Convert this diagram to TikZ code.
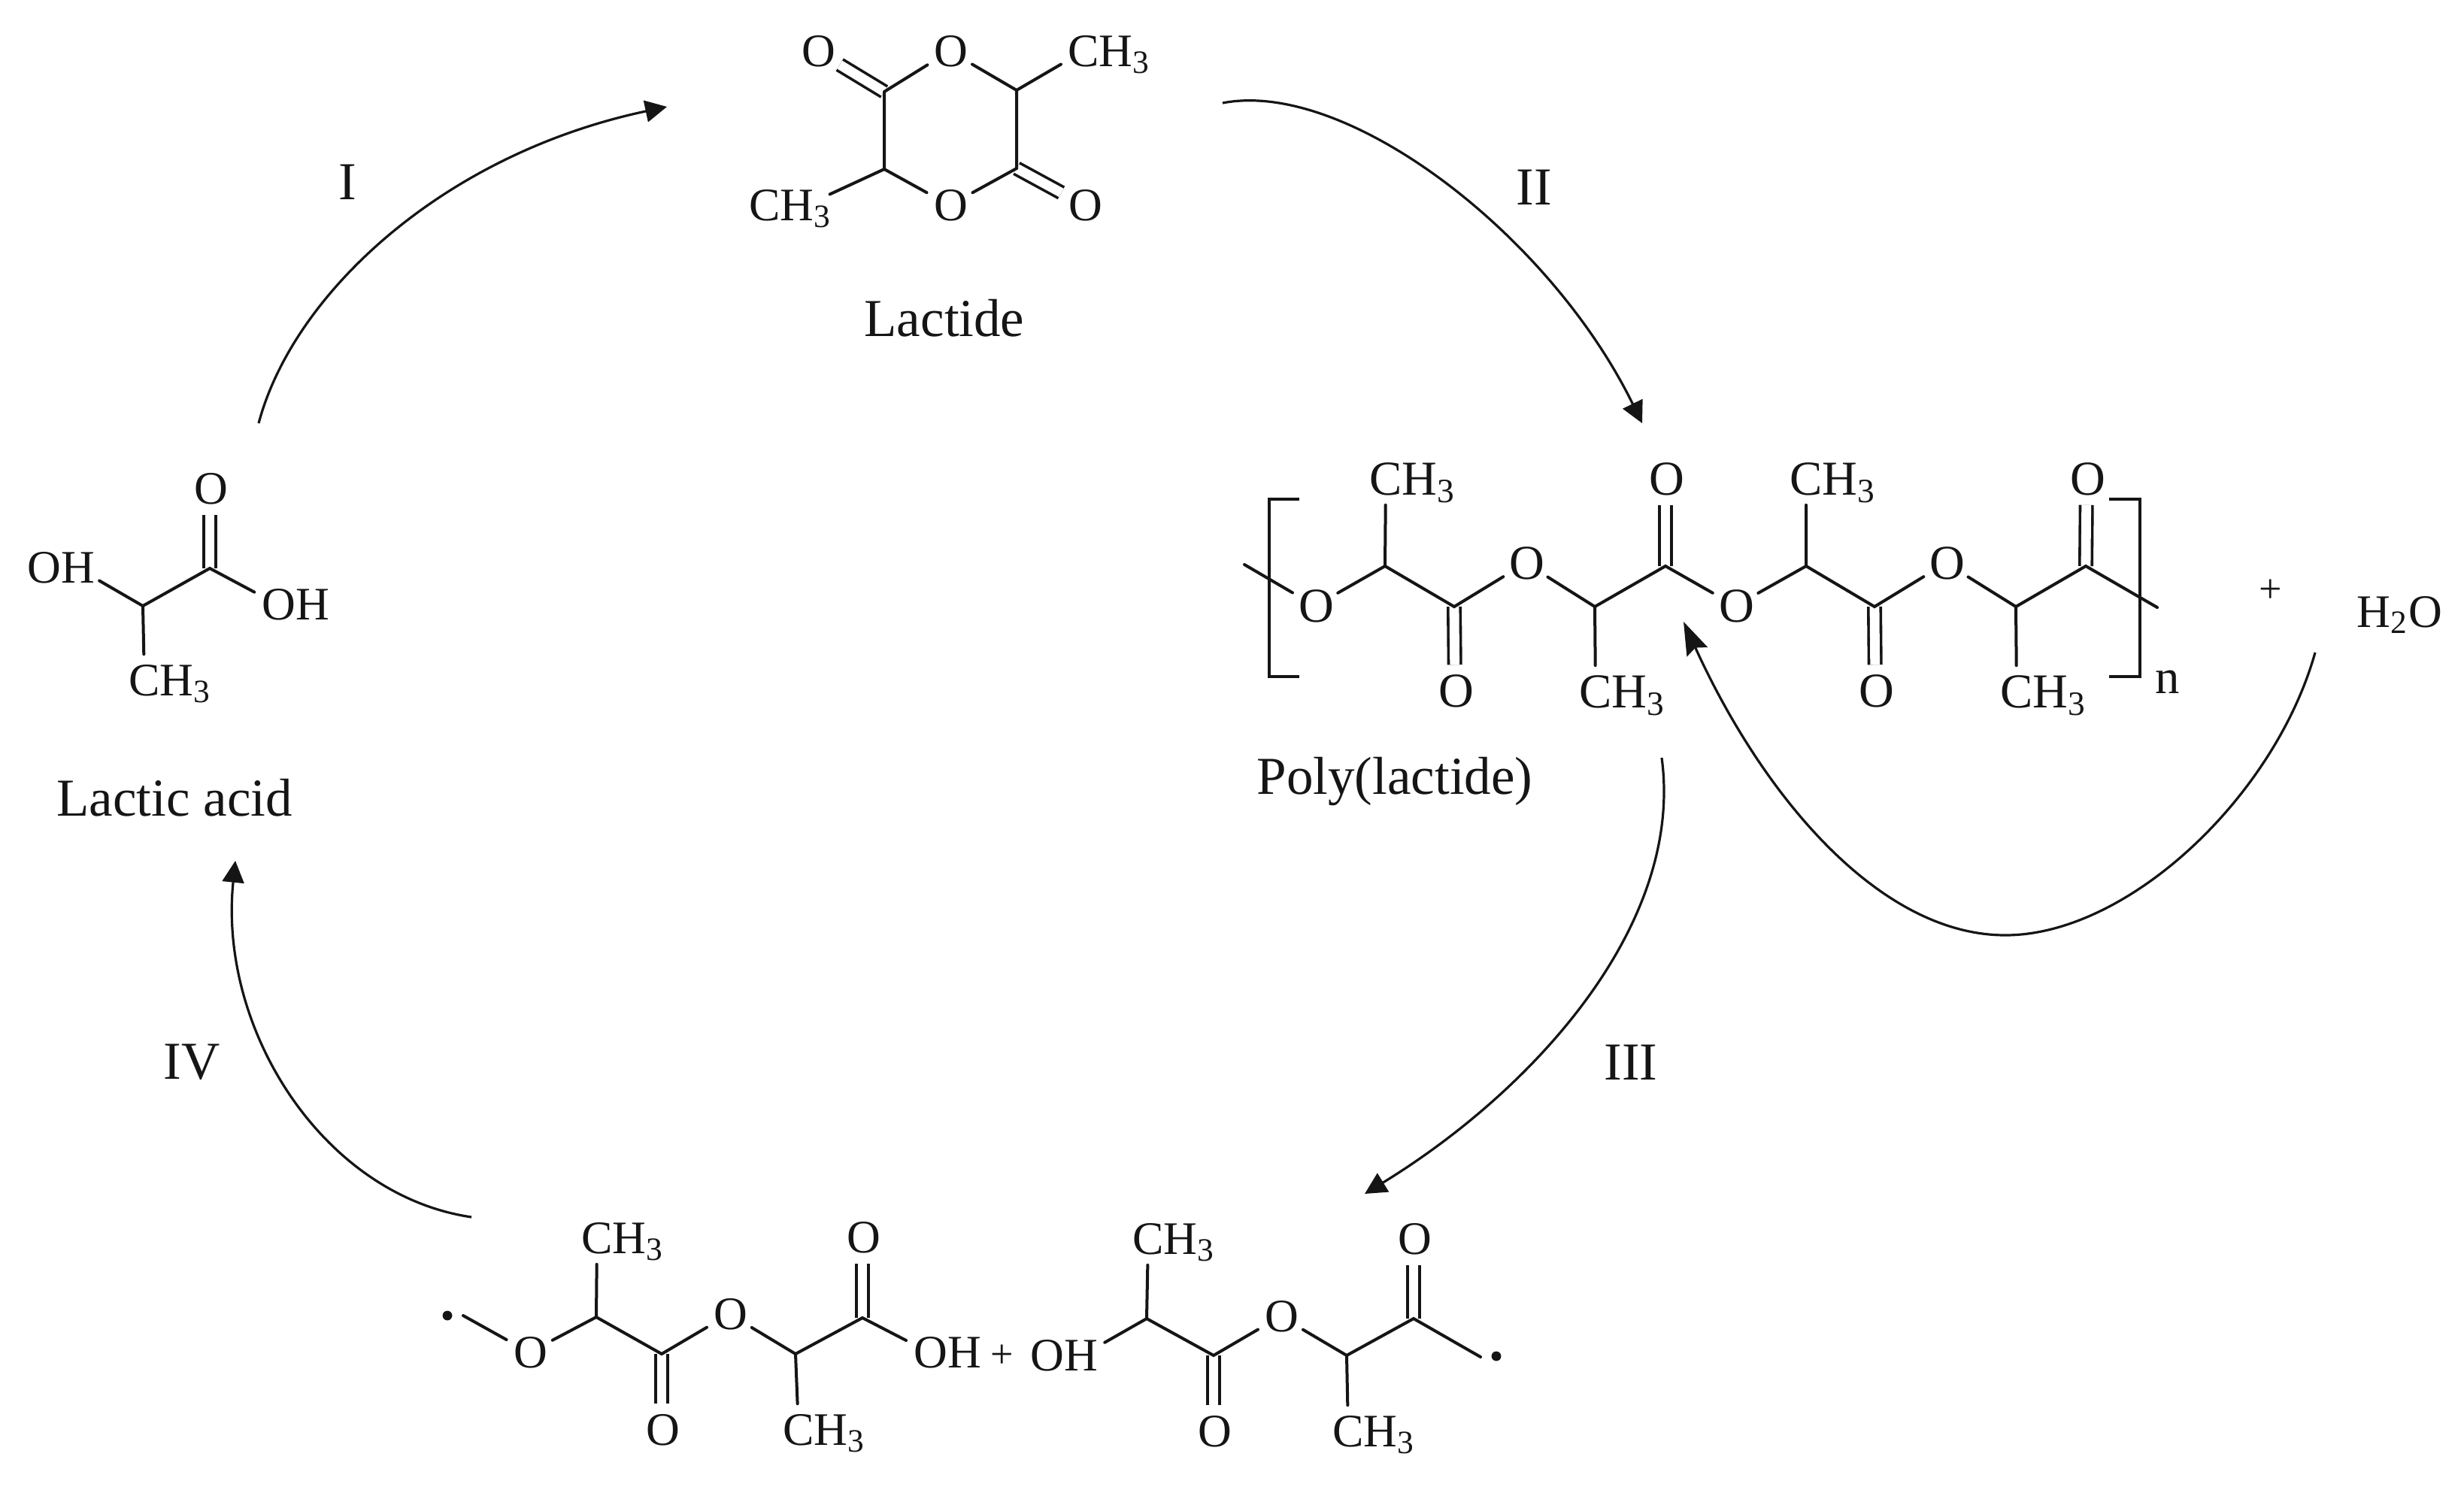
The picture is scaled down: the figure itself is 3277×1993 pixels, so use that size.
\documentclass[tikz,border=0pt]{standalone}
\usepackage{fontspec}
\setmainfont{Liberation Serif}
\usetikzlibrary{arrows.meta}
\newcommand\lab[2][.33]{\makebox[0pt][l]{\hspace{-#1em}\raisebox{-.33em}[0pt][0pt]{#2}}}
\newcommand\Cm[1][.33]{\lab[#1]{CH\textsubscript{3}}}
\newcommand\Oh[1][.33]{\lab[#1]{OH}}
\definecolor{ink}{HTML}{151515}
\tikzset{
  atom/.style={circle,inner sep=0pt,minimum size=17pt,font=\fontsize{15.5}{18}\selectfont,text=ink},
  patom/.style={atom,font=\fontsize{16.2}{18}\selectfont},
  caption/.style={inner sep=0pt,anchor=base,font=\fontsize{17.75}{20}\selectfont,text=ink},
  steplabel/.style={inner sep=0pt,font=\fontsize{17.75}{20}\selectfont,text=ink},
  plus/.style={inner sep=0pt,font=\fontsize{13.5}{15}\selectfont,text=ink},
  bond/.style={draw=ink,line width=1pt,line cap=round},
  dbond/.style={draw=ink,line width=.9pt,double=white,double distance=3.2pt},
  bracket/.style={draw=ink,line width=1.2pt},
  radical/.style={circle,fill=ink,inner sep=0pt,minimum size=3.2pt},
  react/.style={draw=ink,line width=.8pt,-{Triangle[length=7.2pt,width=7.2pt]}},
}
\begin{document}
\begin{tikzpicture}[x=.25pt,y=-.25pt]
\useasboundingbox[fill=white] (0,0) rectangle (3277,1993);

% ---------- Lactide ----------
\coordinate (l1) at (1176,122);
\coordinate (l2) at (1352,120);
\coordinate (l3) at (1352,224);
\coordinate (l4) at (1176,225);
\node[atom] (lo1) at (1263,68) {\lab{O}};
\node[atom] (lo2) at (1263,273) {\lab{O}};
\node[atom] (lo3) at (1087,68) {\lab{O}};
\node[atom] (lo4) at (1442,273) {\lab{O}};
\node[atom] (lm1) at (1441,68) {\Cm};
\node[atom] (lm2) at (1072,273) {\Cm[1.22]};
\draw[dbond] (l1) -- (lo3);
\draw[dbond] (l3) -- (lo4);
\draw[bond] (l1) -- (lo1) (lo1) -- (l2) -- (l3) -- (lo2) (lo2) -- (l4) -- (l1);
\draw[bond] (l2) -- (lm1) (l4) -- (lm2);
\node[caption] (lcap) at (1256,447) {Lactide};

% ---------- Lactic acid ----------
\coordinate (a1) at (190,806);
\coordinate (a2) at (279,756);
\node[atom] (ao) at (279,650) {\lab{O}};
\node[atom] (aoh1) at (102,755) {\Oh[1.05]};
\node[atom] (aoh2) at (369,804) {\Oh};
\node[atom] (am) at (192,905) {\Cm};
\draw[dbond] (a2) -- (ao);
\draw[bond] (aoh1) -- (a1) -- (a2) -- (aoh2);
\draw[bond] (a1) -- (am);
\node[caption] (acap) at (232,1085) {Lactic acid};

% ---------- Poly(lactide) ----------
\coordinate (ps) at (1655,751);
\coordinate (pe) at (2869,808);
\coordinate (p1) at (1842,753);
\coordinate (p2) at (1934,807);
\coordinate (p3) at (2121,807);
\coordinate (p4) at (2215,753);
\coordinate (p5) at (2402,753);
\coordinate (p6) at (2493,807);
\coordinate (p7) at (2681,807);
\coordinate (p8) at (2774,753);
\node[patom] (po1) at (1749,806) {\lab{O}};
\node[patom] (po2) at (2029,749) {\lab{O}};
\node[patom] (po3) at (2308,806) {\lab{O}};
\node[patom] (po4) at (2588,749) {\lab{O}};
\node[patom] (pd1) at (1935,919) {\lab{O}};
\node[patom] (pd2) at (2215,637) {\lab{O}};
\node[patom] (pd3) at (2494,919) {\lab{O}};
\node[patom] (pd4) at (2775,637) {\lab{O}};
\node[patom] (pm1) at (1843,637) {\Cm};
\node[patom] (pm2) at (2122,920) {\Cm};
\node[patom] (pm3) at (2402,637) {\Cm};
\node[patom] (pm4) at (2682,920) {\Cm};
\draw[dbond] (p2) -- (pd1);
\draw[dbond] (p4) -- (pd2);
\draw[dbond] (p6) -- (pd3);
\draw[dbond] (p8) -- (pd4);
\draw[bond] (ps) -- (po1) (po1) -- (p1) -- (p2) -- (po2) (po2) -- (p3) -- (p4) -- (po3) (po3) -- (p5) -- (p6) -- (po4) (po4) -- (p7) -- (p8) -- (pe);
\draw[bond] (p1) -- (pm1) (p3) -- (pm2) (p5) -- (pm3) (p7) -- (pm4);
\draw[bracket] (1728,664) -- (1688,664) -- (1688,900) -- (1728,900);
\draw[bracket] (2805,664) -- (2846,664) -- (2846,900) -- (2805,900);
\node[patom] (pn) at (2883,908) {\raisebox{-.22em}[0pt][0pt]{\makebox[0pt]{n}}};
\node[caption] (pcap) at (1855,1056) {Poly(lactide)};
\node[plus] (pplus) at (3020,786) {+};
\node[atom,anchor=base west,minimum size=0pt] (water) at (3129,834) {H\textsubscript{2}O};

% ---------- Left fragment ----------
\node[radical] (bdot) at (595,1750) {};
\coordinate (bs) at (616,1750);
\coordinate (b1) at (793,1752);
\coordinate (b2) at (880,1801);
\coordinate (b3) at (1058,1801);
\coordinate (b4) at (1147,1753);
\node[atom] (bo1) at (704,1799) {\lab{O}};
\node[atom] (bo2) at (970,1748) {\lab{O}};
\node[atom] (bd1) at (880,1902) {\lab{O}};
\node[atom] (bd2) at (1147,1646) {\lab{O}};
\node[atom] (bm1) at (794,1647) {\Cm};
\node[atom] (bm2) at (1062,1902) {\Cm};
\node[atom] (boh) at (1236,1799) {\Oh};
\draw[dbond] (b2) -- (bd1);
\draw[dbond] (b4) -- (bd2);
\draw[bond] (bs) -- (bo1) (bo1) -- (b1) -- (b2) -- (bo2) (bo2) -- (b3) -- (b4) -- (boh);
\draw[bond] (b1) -- (bm1) (b3) -- (bm2);
\node[plus] (bplus) at (1333,1804) {+};

% ---------- Right fragment ----------
\coordinate (c1) at (1525,1754);
\coordinate (c2) at (1614,1803);
\coordinate (c3) at (1791,1803);
\coordinate (c4) at (1880,1754);
\coordinate (ce) at (1969,1805);
\node[atom] (coh) at (1439,1803) {\Oh[1.1]};
\node[atom] (co) at (1703,1751) {\lab{O}};
\node[atom] (cd1) at (1614,1904) {\lab{O}};
\node[atom] (cd2) at (1880,1648) {\lab{O}};
\node[atom] (cm1) at (1527,1648) {\Cm};
\node[atom] (cm2) at (1793,1904) {\Cm};
\node[radical] (cdot) at (1990,1804) {};
\draw[dbond] (c2) -- (cd1);
\draw[dbond] (c4) -- (cd2);
\draw[bond] (coh) -- (c1) -- (c2) -- (co) (co) -- (c3) -- (c4) -- (ce);
\draw[bond] (c1) -- (cm1) (c3) -- (cm2);

% ---------- Reaction arrows ----------
\coordinate (r1s) at (344,563);
\coordinate (r1e) at (887,142);
\coordinate (r2s) at (1626,137);
\coordinate (r2e) at (2184,563);
\coordinate (r3s) at (2210,1008);
\coordinate (r3e) at (1815,1588);
\coordinate (r4s) at (627,1619);
\coordinate (r4e) at (313,1145);
\coordinate (r5s) at (3079,868);
\coordinate (r5m) at (2667,1244);
\coordinate (r5e) at (2239,827);
\draw[react] (r1s) .. controls (390,390) and (590,205) .. (r1e);
\draw[react] (r2s) .. controls (1790,105) and (2060,310) .. (r2e);
\draw[react] (r3s) .. controls (2240,1230) and (2040,1450) .. (r3e);
\draw[react] (r4s) .. controls (430,1590) and (290,1370) .. (r4e);
\draw[react,-{Stealth[length=11pt,width=7.5pt,inset=1.5pt]}] (r5s) .. controls (3025,1060) and (2830,1244) .. (r5m) .. controls (2500,1244) and (2345,1060) .. (r5e);
\node[steplabel] (s1) at (462,242) {I};
\node[steplabel] (s2) at (2040,249) {II};
\node[steplabel] (s3) at (2169,1413) {III};
\node[steplabel] (s4) at (255,1413) {IV};
\end{tikzpicture}
\end{document}
